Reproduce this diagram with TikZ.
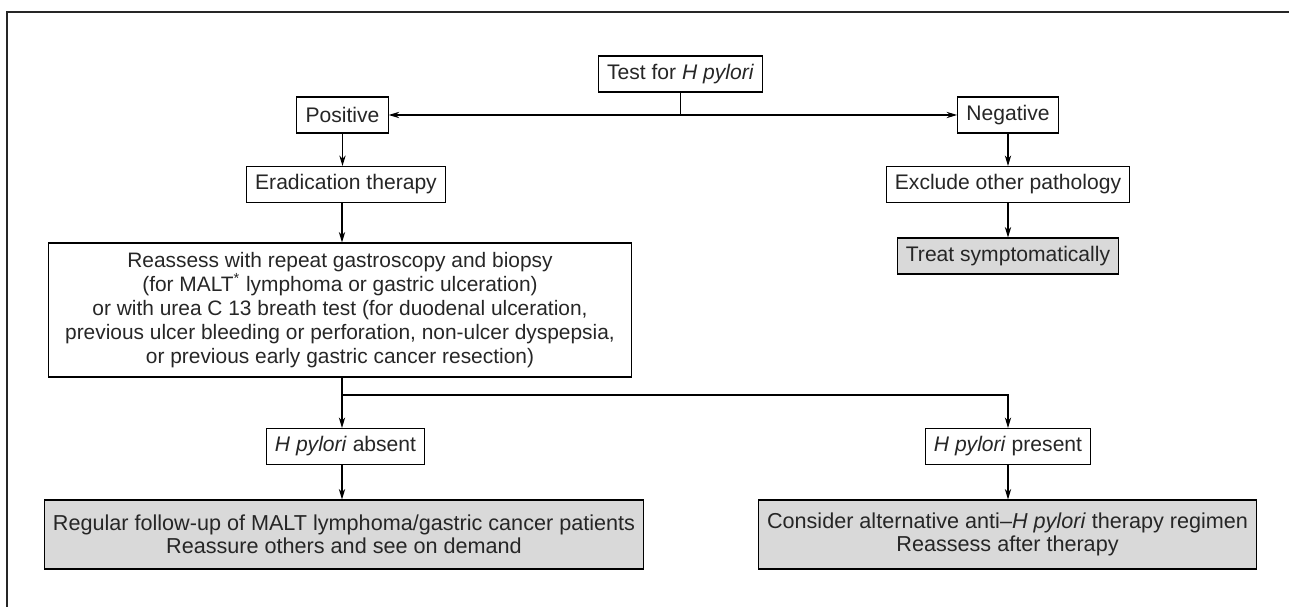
\documentclass[tikz,border=0pt]{standalone}
\usepackage{fontspec}
\setmainfont{Liberation Sans}
\usetikzlibrary{arrows.meta,calc,positioning}

\begin{document}
\begin{tikzpicture}[x=0.02cm, y=-0.02cm, font=\fontsize{12}{14}\selectfont,
	box/.style={draw, line width=0.6pt, text=black!85, inner xsep=5pt, inner ysep=3pt, minimum height=0.72cm, align=center},
	grey/.style={box, fill=black!15},
	link/.style={line width=0.6pt, -{Stealth[length=6pt, width=3.6pt]}}]
		\useasboundingbox (0,0) rectangle (1289,607);
		\draw[line width=0.8pt, black!85] (7,607) -- (7,12) -- (1289,12);
		
		\node[box] (test) at (680.5, 74) {Test for \textit{H pylori}};
		\node[box] (pos) at (342.5, 115) {Positive};
		\node[box] (neg) at (1008, 115) {Negative};
		\node[box] (erad) at (346, 184.5) {Eradication therapy};
		\node[box] (excl) at (1008, 184.5) {Exclude other pathology};
		\node[grey] (treat) at (1008, 256) {Treat symptomatically};
		\node[box, font=\fontsize{11.9}{13.7}\selectfont, minimum width=11.68cm, minimum height=2.68cm] (reass) at (340, 310) {Reassess with repeat gastroscopy and biopsy\\
			(for MALT\textsuperscript{*} lymphoma or gastric ulceration)\\
			or with urea C 13 breath test (for duodenal ulceration,\\
			previous ulcer bleeding or perforation, non-ulcer dyspepsia,\\
			or previous early gastric cancer resection)};
		\node[box] (absent) at (345.5, 446.5) {\textit{H pylori} absent};
		\node[box] (present) at (1008, 446.5) {\textit{H pylori} present};
		\node[grey, font=\fontsize{12.3}{13.3}\selectfont, minimum width=11.96cm, minimum height=1.38cm] (follow) at (344, 534.5) {Regular follow-up of MALT lymphoma/gastric cancer patients\\
			Reassure others and see on demand};
		\node[grey, font=\fontsize{12.3}{13.3}\selectfont, minimum width=9.82cm, minimum height=1.38cm] (alt) at (1007.5, 534.5) {Consider alternative anti--\textit{H pylori} therapy regimen\\
			Reassess after therapy};
		\coordinate (split) at (342, 395);
		
		\draw[line width=0.6pt] (test.south) -- (test.south |- pos.east);
		\draw[link, {Stealth[length=6pt, width=3.6pt]}-{Stealth[length=6pt, width=3.6pt]}] (pos.east) -- (neg.west);
		\draw[link] (pos.south) -- (pos.south |- erad.north);
		\draw[link] (neg.south) -- (excl.north);
		\draw[link] (excl.south) -- (treat.north);
		\draw[link] (erad.south -| split) -- (reass.north -| split);
		\draw[line width=0.6pt] (reass.south -| split) -- (split);
		\draw[link] (split) -- (absent.north -| split);
		\draw[link] (split) -| (present.north);
		\draw[link] (absent.south -| split) -- (follow.north -| split);
		\draw[link] (present.south) -- (alt.north -| present.south);
	\end{tikzpicture}
\end{document}
